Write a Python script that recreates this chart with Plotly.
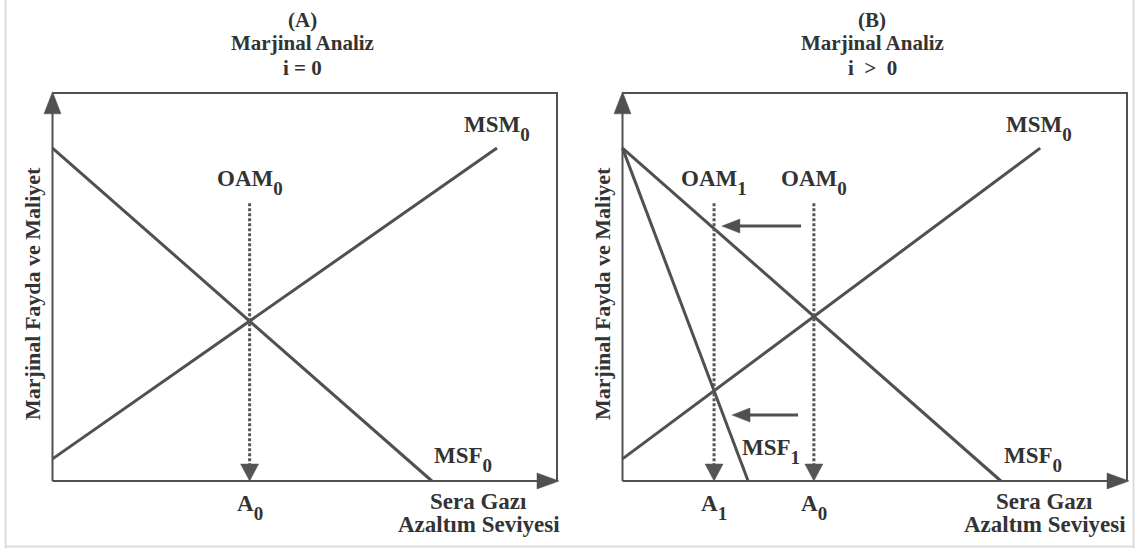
import plotly.graph_objects as go

W, H = 1139, 548

# ---------------- data (abstract units: x = abatement level, y = marginal benefit/cost; frame = 0..100) -------------
title_lines_a = ["(A)", "Marjinal Analiz", "i = 0"]
title_lines_b = ["(B)", "Marjinal Analiz", "i  >  0"]
y_title = "Marjinal Fayda ve Maliyet"
x_title = ["Sera Gazı", "Azaltım Seviyesi"]

# Panel A : i = 0
a_msf0_x = [0, 75.2]
a_msf0_y = [85.8, 0]
a_msm0_x = [0, 88.1]
a_msm0_y = [5.7, 85.8]

# Panel B : i > 0
b_msf0_x = [0, 75.0]
b_msf0_y = [85.8, 0]
b_msf1_x = [0, 24.9]
b_msf1_y = [85.8, 0]
b_msm0_x = [0, 82.8]
b_msm0_y = [5.7, 85.8]

oam_top = 71.6                      # top of the dotted OAM guides
shift_y = [65.7, 17.0]              # leftward shift arrows in panel B
shift_from = [35.4, 34.8]
shift_to = [19.7, 21.7]

# ---------------- styling / geometry ----------------
LINE = "#505050"
TEXT = "#333333"
FONT = "Liberation Serif"
FS = 23

X0 = {"A": 52.5, "B": 622.5}        # pixel of x = 0
Y0 = 481.0                          # pixel of y = 0
SX = 5.045                          # px per x unit
SY = 3.88                           # px per y unit
XR = [-4, 101.5]
YR = [-4, 104]


def xdom(p):
    return [(X0[p] + XR[0] * SX) / W, (X0[p] + XR[1] * SX) / W]


ydom = [1 - (Y0 - YR[0] * SY) / H, 1 - (Y0 - YR[1] * SY) / H]


def to_paper(p, x, y):
    return (X0[p] + x * SX) / W, 1 - (Y0 - y * SY) / H


def intersect(l1x, l1y, l2x, l2y):
    m1 = (l1y[1] - l1y[0]) / (l1x[1] - l1x[0])
    m2 = (l2y[1] - l2y[0]) / (l2x[1] - l2x[0])
    c1 = l1y[0] - m1 * l1x[0]
    c2 = l2y[0] - m2 * l2x[0]
    x = (c2 - c1) / (m1 - m2)
    return x, m1 * x + c1


def head(tx, ty, ux, uy, L, Wd):
    bx = tx - ux * L / SX
    by = ty - uy * L / SY
    px, py = -uy, ux
    xs = [tx, bx + px * Wd / 2 / SX, bx - px * Wd / 2 / SX, tx]
    ys = [ty, by + py * Wd / 2 / SY, by - py * Wd / 2 / SY, ty]
    return xs, ys


def sub(base, idx):
    return base + "<sub><span style='font-size:19px;baseline-shift:-3.5px'>" + idx + "</span></sub>"


fig = go.Figure()
annotations = []


def add_line(ax, xs, ys, width=3, dash="solid", color=LINE):
    fig.add_trace(go.Scatter(x=xs, y=ys, mode="lines", xaxis=ax[0], yaxis=ax[1],
                             line=dict(color=color, width=width, dash=dash),
                             hoverinfo="skip", showlegend=False))


def add_head(ax, xs, ys, color=LINE):
    fig.add_trace(go.Scatter(x=xs, y=ys, mode="lines", fill="toself", fillcolor=color,
                             xaxis=ax[0], yaxis=ax[1], line=dict(color=color, width=0.5),
                             hoverinfo="skip", showlegend=False))


def text(p, x, y, s, size=FS, angle=0):
    px, py = to_paper(p, x, y)
    annotations.append(dict(x=px, y=py, xref="paper", yref="paper", text=s, showarrow=False,
                            xanchor="center", yanchor="middle", textangle=angle,
                            font=dict(family=FONT, size=size, color=TEXT, weight="bold")))


def frame(ax):
    AL = 22
    ytip = 100.3
    xtip = 100.4
    add_line(ax, [0, 0], [0, ytip - AL / SY * 0.5], width=2)
    add_line(ax, [0, xtip - AL / SX * 0.5], [0, 0], width=2)
    add_line(ax, [0, 100, 100], [100, 100, 0], width=2)
    hx, hy = head(0, ytip, 0, 1, AL, 17)
    add_head(ax, hx, hy)
    hx, hy = head(xtip, 0, 1, 0, AL, 16)
    add_head(ax, hx, hy)


def guide(ax, xv):
    L = 17
    add_line(ax, [xv, xv], [oam_top, L / SY * 0.7], width=3, dash="3px,2px", color="#555555")
    hx, hy = head(xv, 0, 0, -1, L, 18)
    add_head(ax, hx, hy, color="#555555")


# ---------------- Panel A ----------------
axA = ("x", "y")
frame(axA)
add_line(axA, a_msf0_x, a_msf0_y)
add_line(axA, a_msm0_x, a_msm0_y)
a0, _ = intersect(a_msf0_x, a_msf0_y, a_msm0_x, a_msm0_y)
guide(axA, a0)

# ---------------- Panel B ----------------
axB = ("x2", "y2")
frame(axB)
add_line(axB, b_msf0_x, b_msf0_y)
add_line(axB, b_msf1_x, b_msf1_y)
add_line(axB, b_msm0_x, b_msm0_y)
b0, _ = intersect(b_msf0_x, b_msf0_y, b_msm0_x, b_msm0_y)
b1, _ = intersect(b_msf1_x, b_msf1_y, b_msm0_x, b_msm0_y)
guide(axB, b0)
guide(axB, b1)
for yv, xf, xt in zip(shift_y, shift_from, shift_to):
    L = 18
    add_line(axB, [xf, xt + L / SX * 0.5], [yv, yv], width=3)
    hx, hy = head(xt, yv, -1, 0, L, 14)
    add_head(axB, hx, hy)

# ---------------- texts ----------------
for p, lines in (("A", title_lines_a), ("B", title_lines_b)):
    for ln, yv in zip(lines, [118.7, 112.9, 106.4]):
        text(p, 49.5, yv, ln, size=21)
    text(p, -4.0, 48.3, y_title, size=22, angle=-90)

# panel A labels
text("A", 88.1, 91.0, sub("MSM", "0"))
text("A", 81.3, 5.6, sub("MSF", "0"))
text("A", a0, 77.1, sub("OAM", "0"))
text("A", a0, -6.8, sub("A", "0"))
text("A", 84.5, -5.4, x_title[0])
text("A", 84.5, -11.1, x_title[1])

# panel B labels
text("B", 82.5, 91.0, sub("MSM", "0"))
text("B", 81.3, 5.6, sub("MSF", "0"))
text("B", 29.5, 7.7, sub("MSF", "1"))
text("B", b1, 77.1, sub("OAM", "1"))
text("B", b0, 77.1, sub("OAM", "0"))
text("B", b1, -6.8, sub("A", "1"))
text("B", b0, -6.8, sub("A", "0"))
text("B", 83.7, -5.4, x_title[0])
text("B", 83.7, -11.1, x_title[1])

ax_common = dict(visible=False, fixedrange=True)
fig.update_layout(
    width=W, height=H,
    margin=dict(l=0, r=0, t=0, b=0),
    paper_bgcolor="white", plot_bgcolor="rgba(0,0,0,0)",
    showlegend=False,
    xaxis=dict(domain=xdom("A"), range=XR, **ax_common),
    yaxis=dict(domain=ydom, range=YR, **ax_common),
    xaxis2=dict(domain=xdom("B"), range=XR, anchor="y2", **ax_common),
    yaxis2=dict(domain=ydom, range=YR, anchor="x2", **ax_common),
    annotations=annotations,
    shapes=[
        dict(type="line", xref="paper", yref="paper", x0=5.5 / W, x1=5.5 / W, y0=0, y1=1,
             line=dict(color="#dcdcdc", width=2)),
        dict(type="line", xref="paper", yref="paper", x0=5.5 / W, x1=1133.5 / W,
             y0=1 - 546.5 / H, y1=1 - 546.5 / H, line=dict(color="#dcdcdc", width=2)),
        dict(type="line", xref="paper", yref="paper", x0=1133.5 / W, x1=1133.5 / W, y0=0, y1=1,
             line=dict(color="#dcdcdc", width=2)),
    ],
)

fig.write_html("out.html", config={"displayModeBar": False},
               post_script="document.body.style.margin='0px';document.body.style.overflow='hidden';")
